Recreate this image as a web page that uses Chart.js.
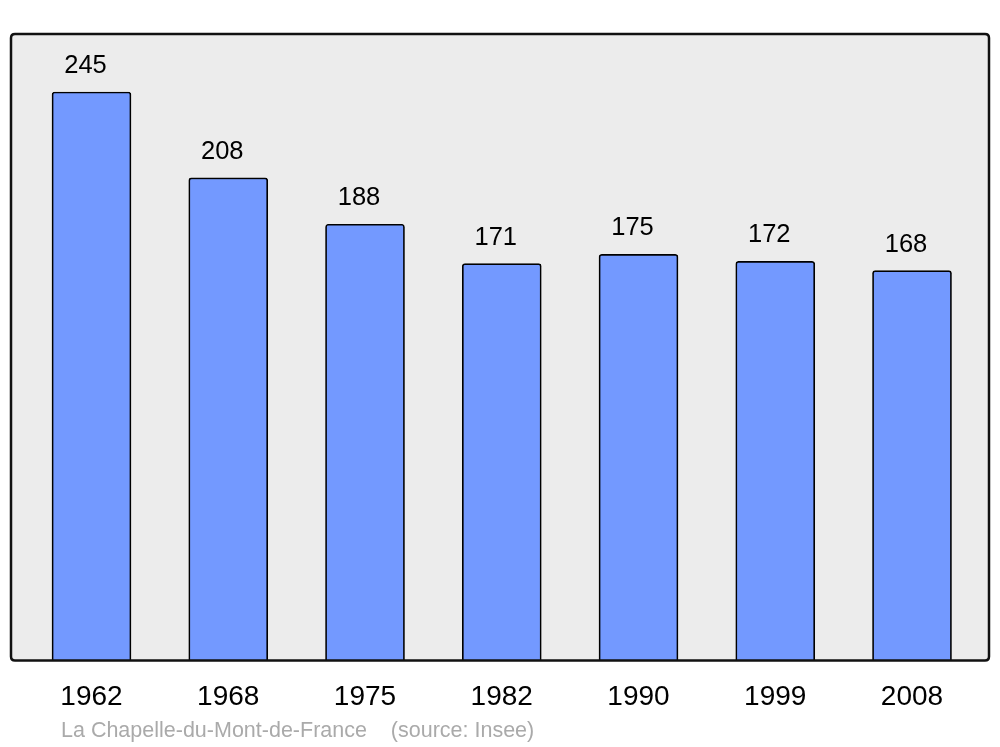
<!doctype html>
<html lang="fr">
<head>
    <meta charset="UTF-8">
    <title>Population</title>
    <style>
        body { margin: 0; background: #ffffff; }
        #wrap { width: 1000px; height: 747px; }
    </style>
    <script src="https://cdn.jsdelivr.net/npm/chart.js"></script>
</head>
<body>
<div id="wrap"><canvas id="myChart" width="1000" height="747"></canvas></div>

<script>
    const years = ['1962', '1968', '1975', '1982', '1990', '1999', '2008'];
    const population = [245, 208, 188, 171, 175, 172, 168];
    const sourceText = 'La Chapelle-du-Mont-de-France    (source: Insee)';

    const FONT = '"Liberation Sans", Arial, sans-serif';

    function roundRect(ctx, x, y, w, h, r) {
        ctx.beginPath();
        ctx.moveTo(x + r, y);
        ctx.lineTo(x + w - r, y);
        ctx.quadraticCurveTo(x + w, y, x + w, y + r);
        ctx.lineTo(x + w, y + h - r);
        ctx.quadraticCurveTo(x + w, y + h, x + w - r, y + h);
        ctx.lineTo(x + r, y + h);
        ctx.quadraticCurveTo(x, y + h, x, y + h - r);
        ctx.lineTo(x, y + r);
        ctx.quadraticCurveTo(x, y, x + r, y);
        ctx.closePath();
    }

    // grey plot box, frame, value labels and source line
    const framePlugin = {
        id: 'frame',
        beforeDatasetsDraw(chart) {
            const a = chart.chartArea;
            const ctx = chart.ctx;
            ctx.save();
            roundRect(ctx, a.left, a.top, a.right - a.left, a.bottom - a.top, 4);
            ctx.fillStyle = '#ececec';
            ctx.fill();
            ctx.restore();
        },
        afterDatasetsDraw(chart) {
            const a = chart.chartArea;
            const ctx = chart.ctx;
            ctx.save();
            roundRect(ctx, a.left, a.top, a.right - a.left, a.bottom - a.top, 4);
            ctx.lineWidth = 2.5;
            ctx.strokeStyle = '#111111';
            ctx.stroke();

            ctx.fillStyle = '#000000';
            ctx.font = '25.5px ' + FONT;
            ctx.textAlign = 'center';
            ctx.textBaseline = 'alphabetic';
            chart.getDatasetMeta(0).data.forEach((bar, i) => {
                ctx.fillText(String(population[i]), bar.x - 6, bar.y - 19);
            });

            ctx.fillStyle = '#aaaaaa';
            ctx.font = '21.5px ' + FONT;
            ctx.textAlign = 'left';
            ctx.textBaseline = 'middle';
            ctx.fillText(sourceText, 61, 731);
            ctx.restore();
        }
    };

    const ctx = document.getElementById('myChart').getContext('2d');
    new Chart(ctx, {
        type: 'bar',
        data: {
            datasets: [{
                data: population.map((v, i) => ({ x: i, y: v })),
                backgroundColor: '#7399ff',
                borderColor: '#000000',
                borderWidth: 1.7,
                borderRadius: 3,
                borderSkipped: 'bottom',
                barThickness: 79
            }]
        },
        options: {
            responsive: false,
            animation: false,
            layout: { padding: { left: 11, right: 11, top: 34, bottom: 12.8 } },
            plugins: { legend: { display: false }, tooltip: { enabled: false } },
            scales: {
                x: {
                    type: 'linear',
                    offset: false,
                    min: -0.5887,
                    max: 6.563,
                    grid: { display: false, drawTicks: false, offset: false },
                    border: { display: false },
                    ticks: {
                        stepSize: 1,
                        includeBounds: false,
                        autoSkip: false,
                        maxRotation: 0,
                        padding: 18,
                        color: '#000000',
                        font: { size: 28, family: FONT, lineHeight: 1.35 },
                        callback: v => Number.isInteger(v) ? (years[v] || '') : ''
                    }
                },
                y: {
                    display: false,
                    min: 0,
                    max: 270
                }
            }
        },
        plugins: [framePlugin]
    });
</script>
</body>
</html>
